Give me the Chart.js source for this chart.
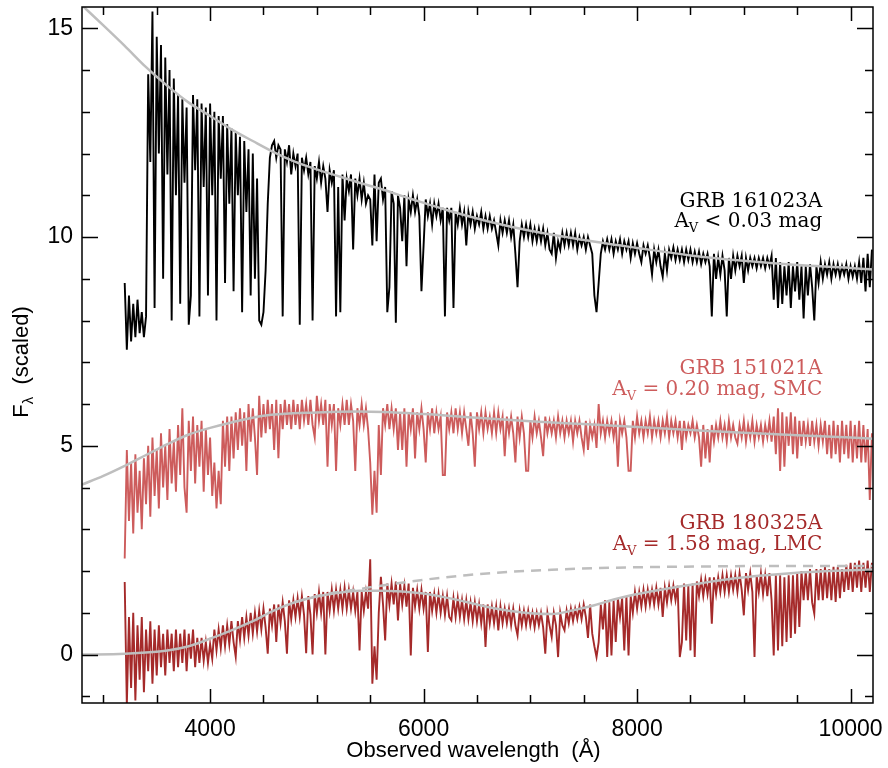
<!DOCTYPE html>
<html>
<head>
<meta charset="utf-8">
<script src="https://cdn.jsdelivr.net/npm/chart.js@4.4.0/dist/chart.umd.min.js"></script>
<style>
  html, body { margin: 0; padding: 0; background: #fff; }
</style>
</head>
<body>
<canvas id="specChart" width="888" height="768"></canvas>
<script>
// spectra are sampled on a regular wavelength grid (Angstrom)
const waveStart = 3200;
const waveStep = 20;

// GRB 161023A, Av < 0.03
const flux161023A = [
  8.9, 7.3, 8.6, 7.5, 8.4, 7.6, 8.5, 7.7, 8.2, 7.6, 8.1, 13.9, 11.8, 15.4, 8.3, 14.8, 12.0, 14.6, 9.0, 14.3, 11.5, 14.0, 8.0, 13.8, 11.0,
  13.4, 8.4, 13.3, 11.3, 13.1, 7.9, 8.6, 13.4, 11.6, 13.3, 8.1, 13.2, 11.2, 13.1, 8.6, 13.2, 11.0, 13.0, 8.0, 12.9, 11.4, 12.9, 8.9, 12.7, 10.8,
  12.6, 8.7, 12.5, 11.0, 12.4, 8.2, 12.3, 10.6, 12.1, 8.6, 12.0, 9.0, 11.4, 8.0, 7.9, 8.2, 9.2, 10.8, 11.9, 12.2, 12.3, 11.9, 12.2, 12.1, 8.1,
  12.1, 11.8, 12.2, 11.5, 12.0, 11.7, 12.0, 7.9, 11.9, 11.6, 11.9, 11.5, 11.8, 8.0, 11.7, 11.4, 11.8, 11.3, 11.7, 11.4, 10.6, 11.6, 11.3, 11.6, 8.1,
  11.2, 8.2, 11.5, 10.4, 11.4, 11.1, 11.5, 9.7, 11.4, 11.0, 11.4, 10.9, 11.3, 10.8, 11.0, 10.9, 9.8, 11.5, 9.9, 11.3, 11.4, 10.9, 11.2, 8.2, 8.8,
  11.1, 10.8, 7.95, 11.0, 10.7, 9.9, 11.0, 9.3, 10.9, 10.6, 11.0, 10.6, 10.9, 10.5, 8.7, 9.8, 10.9, 10.5, 10.8, 10.3, 10.8, 10.5, 10.8, 10.4, 10.7,
  8.1, 10.7, 10.4, 10.7, 8.3, 10.6, 10.3, 10.7, 10.3, 10.6, 9.8, 10.6, 10.3, 10.6, 10.2, 10.5, 10.3, 10.6, 10.2, 10.5, 10.2, 10.5, 10.2, 10.4, 10.1,
  9.8, 10.4, 10.1, 10.4, 10.1, 10.4, 10.0, 10.3, 9.6, 8.8, 9.9, 10.3, 10.0, 10.3, 10.0, 10.3, 9.9, 10.2, 9.9, 10.2, 9.9, 10.2, 9.8, 10.1, 9.7,
  9.6, 10.1, 9.5, 9.9, 9.7, 10.1, 9.8, 10.1, 9.8, 10.1, 9.8, 10.1, 9.7, 10.0, 9.8, 10.0, 9.7, 10.0, 9.8, 9.6, 8.6, 8.2, 8.9, 9.6, 9.9,
  9.7, 9.95, 9.7, 9.95, 9.6, 9.9, 9.7, 9.95, 9.6, 9.9, 9.7, 9.9, 9.5, 9.85, 9.6, 9.85, 9.6, 9.4, 9.8, 9.6, 9.8, 9.5, 9.1, 9.7, 9.4,
  9.7, 9.3, 9.05, 9.6, 9.2, 9.7, 9.5, 9.75, 9.45, 9.7, 9.45, 9.7, 9.4, 9.7, 9.45, 9.7, 9.4, 9.65, 9.4, 9.65, 9.35, 9.6, 9.4, 9.6, 9.3,
  8.1, 9.6, 9.0, 9.5, 9.1, 9.55, 9.2, 8.1, 9.5, 9.0, 9.55, 9.2, 9.55, 9.3, 9.55, 8.9, 9.5, 9.2, 9.5, 9.3, 9.5, 9.25, 9.5, 9.3, 9.5,
  9.25, 9.5, 9.3, 9.55, 8.5, 9.5, 8.3, 9.4, 8.4, 9.3, 8.6, 9.4, 8.3, 9.3, 8.7, 9.4, 8.5, 9.3, 8.05, 9.3, 8.6, 9.35, 8.8, 8.0, 9.3,
  8.9, 9.4, 9.0, 9.35, 9.1, 9.4, 9.0, 9.35, 9.1, 9.35, 9.05, 9.3, 9.1, 9.35, 9.0, 9.3, 9.05, 9.3, 9.0, 9.4, 8.9, 9.5, 8.7, 9.6, 8.8, 9.7
];

// GRB 151021A, Av = 0.20 (SMC)
const flux151021A = [
  2.3, 4.9, 3.2, 4.6, 2.9, 4.8, 3.4, 4.4, 3.0, 4.7, 3.6, 5.0, 3.3, 5.2, 3.8, 4.9, 3.5, 5.3, 4.0, 5.0, 3.7, 5.4, 4.1, 5.1, 3.9,
  5.5, 4.3, 5.9, 4.0, 3.4, 5.6, 4.4, 5.7, 4.1, 5.5, 4.5, 5.6, 3.9, 5.4, 4.3, 5.2, 3.8, 4.6, 3.5, 4.4, 3.6, 5.6, 4.5, 5.7, 4.4,
  5.7, 4.7, 5.8, 4.9, 5.9, 5.0, 5.8, 4.4, 6.0, 5.1, 5.9, 5.2, 4.3, 6.2, 5.2, 6.0, 5.3, 6.1, 5.4, 6.0, 4.9, 6.1, 4.7, 6.0, 5.4,
  6.1, 5.5, 6.0, 5.4, 6.1, 5.5, 6.0, 5.4, 6.1, 5.6, 6.0, 5.5, 6.1, 5.5, 5.2, 6.2, 5.6, 6.0, 5.5, 6.1, 4.5, 6.0, 5.5, 6.0, 4.4,
  5.9, 5.5, 6.0, 5.5, 6.1, 5.5, 6.0, 5.6, 4.4, 5.9, 5.5, 6.0, 5.5, 5.9, 5.4, 4.6, 3.35, 4.4, 3.4, 5.5, 4.3, 5.9, 5.5, 6.0, 5.4,
  5.9, 5.4, 5.9, 4.9, 5.8, 4.9, 5.9, 4.5, 5.8, 5.4, 5.9, 4.7, 5.8, 5.4, 5.9, 5.4, 4.6, 5.8, 5.4, 5.9, 5.3, 5.8, 5.4, 5.7, 4.3,
  4.3, 5.8, 5.4, 5.8, 5.3, 5.9, 5.4, 5.8, 5.3, 5.8, 5.4, 5.0, 5.8, 5.3, 4.5, 5.8, 5.4, 5.8, 5.3, 5.8, 5.4, 5.7, 5.3, 5.8, 5.3,
  5.8, 5.4, 5.7, 4.75, 5.7, 5.3, 5.7, 5.3, 4.6, 5.7, 5.2, 5.7, 5.3, 4.4, 4.4, 5.6, 5.2, 5.7, 5.3, 5.6, 5.2, 4.75, 5.7, 5.3, 5.6,
  5.3, 5.6, 5.2, 5.7, 5.3, 5.6, 5.2, 5.6, 5.3, 5.6, 5.1, 5.6, 5.3, 5.6, 5.2, 4.9, 5.6, 4.9, 5.5, 5.2, 5.5, 4.95, 6.0, 5.3, 5.6,
  5.2, 5.6, 5.3, 5.6, 5.2, 5.6, 4.5, 5.6, 5.3, 5.6, 5.2, 4.4, 4.4, 5.6, 5.2, 5.7, 5.3, 5.6, 5.2, 5.6, 5.3, 5.7, 5.2, 5.6, 5.3,
  5.6, 5.2, 5.6, 5.3, 5.7, 5.2, 5.6, 5.3, 5.6, 5.2, 5.6, 4.9, 5.6, 5.2, 5.5, 5.3, 5.6, 5.2, 5.5, 5.2, 4.5, 5.5, 4.7, 5.4, 4.6,
  5.5, 5.1, 5.5, 5.2, 5.6, 5.2, 5.5, 5.1, 5.6, 5.2, 5.5, 5.2, 5.05, 5.5, 5.2, 5.6, 5.1, 5.5, 5.2, 5.6, 5.1, 5.5, 5.2, 5.5, 5.1,
  5.5, 5.2, 5.6, 5.1, 5.7, 4.8, 5.9, 4.4, 5.8, 4.5, 5.7, 5.0, 5.8, 4.8, 5.7, 4.7, 5.6, 5.0, 5.6, 5.1, 5.5, 5.0, 5.6, 5.1, 5.5,
  5.0, 5.5, 5.1, 5.6, 4.8, 5.5, 4.7, 5.6, 4.8, 5.5, 4.6, 5.6, 4.8, 5.5, 4.7, 5.6, 4.6, 5.5, 4.7, 5.6, 4.6, 5.5, 4.6, 5.4, 3.7, 5.3
];

// GRB 180325A, Av = 1.58 (LMC)
const flux180325A = [
  1.74, -1.2, 0.9, -0.8, 1.0, -1.1, 0.7, -0.6, 0.9, -0.9, 0.6, -0.4, 0.8, -0.7, 0.6, -0.5, 0.7, -0.3, 0.5, -0.5, 0.6, -0.2, 0.5, -0.4, 0.6,
  -0.3, 0.5, -0.2, 0.6, -0.4, 0.5, -0.1, 0.6, -0.3, 0.4, -0.2, 0.4, -0.15, 0.3, -0.2, 0.25, -0.1, 0.6, 0.1, 0.6, 0.15, 0.7, 0.2, 0.7, 0.25,
  0.8, 0.3, -0.05, 0.8, 0.35, 0.9, 0.4, 0.9, 0.45, 1.0, 0.5, 1.0, 0.55, 1.05, 0.6, 1.1, 0.65, 0.02, 1.1, 0.7, 1.2, 0.3, 1.2, 0.75, 1.25,
  0.8, 0.02, 1.3, 0.85, 1.3, 0.9, 1.35, 0.9, 1.4, 0.95, 0.03, 1.4, 0.95, 0.0, 1.45, 1.0, 1.5, 1.0, 1.5, 0.0, 1.5, 1.05, 1.55, 1.05, 1.55,
  1.1, 1.55, 1.1, 1.6, 1.1, 1.55, 1.1, 1.5, 1.05, 1.5, 0.1, 1.5, 1.05, 1.5, 1.1, 2.28, -0.7, 0.2, -0.6, 1.0, 1.86, 1.2, 0.34, 1.7, 1.2,
  1.7, 1.2, 1.75, 0.82, 1.7, 1.2, 1.65, 1.15, 1.7, -0.02, 1.6, 1.15, 1.55, 1.1, 1.55, 1.1, 1.5, 0.06, 1.5, 1.05, 1.45, 1.0, 1.45, 1.0, 1.4,
  0.95, 1.4, 0.9, 0.82, 1.35, 0.9, 1.35, 0.9, 1.3, 0.85, 1.3, 0.85, 1.25, 0.8, 1.25, 0.8, 1.2, 0.75, 1.2, 0.18, 1.2, 0.75, 1.15, 0.75, 1.15,
  0.58, 1.15, 0.75, 1.1, 0.75, 1.1, 0.7, 1.1, 0.7, 0.46, 1.05, 0.7, 1.05, 0.7, 1.05, 0.7, 1.0, 0.65, 1.0, 0.7, 1.0, 0.65, 0.02, 1.0, 0.7,
  0.42, 1.0, 0.7, -0.06, 1.0, 0.7, 0.58, 1.05, 0.75, 1.1, 0.8, 1.1, 0.85, 1.15, 0.85, 1.2, 0.9, 0.4, 1.2, 0.5, 0.2, -0.06, 0.3, 1.2, 0.6,
  1.3, -0.06, 1.25, -0.02, 1.3, 0.3, 1.35, 0.9, 1.35, 0.1, 1.4, -0.02, 1.4, 1.0, 1.5, 1.1, 1.5, 1.15, 1.55, 1.15, 1.55, 1.2, 1.55, 1.2, 1.6,
  1.2, 1.6, 0.9, 1.6, 1.25, 1.65, 1.3, 1.65, 1.3, 1.65, -0.06, 0.3, 1.7, 0.34, 1.65, 0.1, 1.7, -0.06, 1.75, 1.4, 1.8, 1.4, 1.8, 1.45, 1.85,
  0.74, 1.85, 1.45, 1.85, 1.5, 1.9, 1.5, 1.9, 1.5, 1.9, 1.55, 1.9, 1.5, 1.95, 1.55, 0.94, 1.95, 1.55, 1.95, 1.5, -0.06, 1.9, 1.5, 1.95, 1.45,
  1.9, 1.4, 1.95, 1.3, -0.02, 1.9, 0.1, 1.9, 0.2, 1.85, 0.3, 1.9, 0.4, 1.9, 0.5, 1.95, 0.66, 2.0, 1.3, 2.0, 1.3, 2.05, 1.25, 0.98, 2.05,
  1.3, 2.05, 1.3, 2.1, 1.35, 2.05, 1.3, 2.1, 1.26, 2.1, 1.35, 2.05, 1.5, 2.15, 1.55, 2.2, 1.5, 2.2, 1.6, 2.25, 1.5, 2.2, 1.6, 2.25, 1.5, 2.2
];

// smooth model continua
const model161023A_x = [2800, 3000, 3200, 3400, 3600, 3800, 4000, 4200, 4400, 4600, 4800, 5000, 5300, 5600, 5900, 6200, 6600, 7000, 7500, 8000, 8500, 9000, 9500, 10000, 10210];
const model161023A_y = [15.55, 15.07, 14.58, 14.07, 13.62, 13.22, 12.9, 12.58, 12.3, 12.03, 11.8, 11.62, 11.38, 11.15, 10.9, 10.66, 10.38, 10.15, 9.93, 9.74, 9.56, 9.43, 9.33, 9.26, 9.22];

const model151021A_x = [2800, 3000, 3200, 3400, 3600, 3800, 4000, 4200, 4500, 5000, 5400, 6000, 6500, 7000, 7500, 8000, 8500, 9000, 9500, 10000, 10210];
const model151021A_y = [4.07, 4.28, 4.52, 4.78, 5.04, 5.27, 5.43, 5.56, 5.72, 5.8, 5.82, 5.76, 5.67, 5.59, 5.52, 5.45, 5.38, 5.31, 5.25, 5.2, 5.17];

const model180325A_x = [2800, 3200, 3600, 3800, 4000, 4200, 4400, 4600, 4800, 5000, 5200, 5400, 5600, 5800, 6000, 6200, 6400, 6600, 6800, 7000, 7200, 7400, 7600, 7800, 8000, 8300, 8600, 8900, 9200, 9500, 9800, 10210];
const model180325A_y = [0.0, 0.02, 0.1, 0.2, 0.38, 0.58, 0.8, 1.06, 1.26, 1.39, 1.48, 1.53, 1.53, 1.51, 1.46, 1.37, 1.26, 1.14, 1.05, 0.99, 0.97, 1.06, 1.18, 1.33, 1.45, 1.59, 1.71, 1.82, 1.9, 1.96, 2.0, 2.04];

// same model without the 2175 A bump (dashed)
const noBump180325A_x = [4800, 5000, 5200, 5400, 5600, 6000, 6400, 6800, 7200, 7600, 8000, 8600, 9200, 10210];
const noBump180325A_y = [1.26, 1.4, 1.5, 1.57, 1.65, 1.79, 1.9, 1.98, 2.03, 2.07, 2.09, 2.11, 2.12, 2.12];

const xTicks = [4000, 6000, 8000, 10000];
const yTicks = [0, 5, 10, 15];

const labels = [
  { name: 'GRB 161023A', av: ' < 0.03 mag', color: '#000000', y1: 10.73, y2: 10.24 },
  { name: 'GRB 151021A', av: ' = 0.20 mag, SMC', color: '#cd5c5c', y1: 6.72, y2: 6.22 },
  { name: 'GRB 180325A', av: ' = 1.58 mag, LMC', color: '#a52a2a', y1: 3.0, y2: 2.5 }
];

function spectrum(flux) {
  return flux.map((f, i) => ({ x: waveStart + i * waveStep, y: f }));
}
function curve(xs, ys) {
  return xs.map((v, i) => ({ x: v, y: ys[i] }));
}

const GRAY = '#bebebe';
const SANS = '"Liberation Sans", Arial, sans-serif';
const SERIF = '"DejaVu Serif", serif';

const framePlugin = {
  id: 'framePlugin',
  afterDraw(chart) {
    const { ctx, chartArea: a, scales: { x, y } } = chart;
    ctx.save();
    ctx.strokeStyle = '#000';
    ctx.lineWidth = 1.5;
    ctx.strokeRect(a.left, a.top, a.right - a.left, a.bottom - a.top);

    // inward ticks on all four sides
    ctx.beginPath();
    for (let v = 3000; v <= 10000; v += 500) {
      const px = Math.round(x.getPixelForValue(v)) + 0.5;
      const len = v % 2000 === 0 ? 14 : 8;
      ctx.moveTo(px, a.bottom); ctx.lineTo(px, a.bottom - len);
      ctx.moveTo(px, a.top); ctx.lineTo(px, a.top + len);
    }
    for (let v = -1; v <= 15; v++) {
      const py = Math.round(y.getPixelForValue(v)) + 0.5;
      const len = v % 5 === 0 ? 16 : 8;
      ctx.moveTo(a.left, py); ctx.lineTo(a.left + len, py);
      ctx.moveTo(a.right, py); ctx.lineTo(a.right - len, py);
    }
    ctx.stroke();

    // axis titles
    ctx.fillStyle = '#000';
    ctx.font = '22px ' + SANS;
    ctx.textAlign = 'center';
    ctx.textBaseline = 'alphabetic';
    ctx.fillText('Observed wavelength  (\u00c5)', (a.left + a.right) / 2 - 4, 757);

    ctx.save();
    ctx.translate(28, 362);
    ctx.rotate(-Math.PI / 2);
    ctx.textAlign = 'left';
    const wF = ctx.measureText('F').width;
    ctx.font = '15px ' + SANS;
    const wL = ctx.measureText('\u03bb').width;
    ctx.font = '22px ' + SANS;
    const wS = ctx.measureText('  (scaled)').width;
    let sx = -(wF + wL + wS) / 2;
    ctx.fillText('F', sx, 0);
    sx += wF;
    ctx.font = '15px ' + SANS;
    ctx.fillText('\u03bb', sx, 5);
    sx += wL;
    ctx.font = '22px ' + SANS;
    ctx.fillText('  (scaled)', sx, 0);
    ctx.restore();

    // labels of the three spectra, right aligned
    const xr = x.getPixelForValue(9735);
    labels.forEach(l => {
      ctx.fillStyle = l.color;
      ctx.font = '20px ' + SERIF;
      ctx.textAlign = 'right';
      ctx.fillText(l.name, xr, y.getPixelForValue(l.y1));
      const wA = ctx.measureText('A').width;
      const wRest = ctx.measureText(l.av).width;
      ctx.font = '13px ' + SERIF;
      const wV = ctx.measureText('V').width;
      const base = y.getPixelForValue(l.y2);
      ctx.textAlign = 'left';
      let px = xr - wA - wV - wRest;
      ctx.font = '20px ' + SERIF;
      ctx.fillText('A', px, base);
      px += wA;
      ctx.font = '13px ' + SERIF;
      ctx.fillText('V', px, base + 5);
      px += wV;
      ctx.font = '20px ' + SERIF;
      ctx.fillText(l.av, px, base);
    });
    ctx.restore();
  }
};

const specLine = (data, color) => ({
  data: data,
  borderColor: color,
  borderWidth: 1.9,
  pointRadius: 0,
  tension: 0,
  order: 2
});
const modelLine = (data, dash) => ({
  data: data,
  borderColor: GRAY,
  borderWidth: 2.5,
  borderDash: dash || [],
  pointRadius: 0,
  cubicInterpolationMode: 'monotone',
  order: 1
});

const chart = new Chart(document.getElementById('specChart'), {
  type: 'line',
  data: {
    datasets: [
      specLine(spectrum(flux161023A), '#000000'),
      specLine(spectrum(flux151021A), '#cd5c5c'),
      specLine(spectrum(flux180325A), '#a52a2a'),
      modelLine(curve(model161023A_x, model161023A_y)),
      modelLine(curve(model151021A_x, model151021A_y)),
      modelLine(curve(noBump180325A_x, noBump180325A_y), [10, 7]),
      modelLine(curve(model180325A_x, model180325A_y))
    ]
  },
  options: {
    responsive: false,
    animation: false,
    layout: { padding: { top: 7, right: 15, left: 0, bottom: 0 } },
    plugins: { legend: { display: false }, tooltip: { enabled: false } },
    scales: {
      x: {
        type: 'linear',
        min: 2800,
        max: 10210,
        grid: { display: false, drawTicks: false },
        border: { display: false },
        afterFit: s => { s.height = 65; s.paddingLeft = 0; s.paddingRight = 0; },
        afterBuildTicks: s => { s.ticks = xTicks.map(v => ({ value: v })); },
        ticks: {
          padding: 13,
          maxRotation: 0,
          color: '#000',
          font: { family: SANS, size: 23 },
          callback: v => String(v)
        }
      },
      y: {
        min: -1.16,
        max: 15.51,
        grid: { display: false, drawTicks: false },
        border: { display: false },
        afterFit: s => { s.width = 82; s.paddingTop = 0; s.paddingBottom = 0; },
        afterBuildTicks: s => { s.ticks = yTicks.map(v => ({ value: v })); },
        ticks: {
          padding: 9,
          color: '#000',
          font: { family: SANS, size: 23 },
          callback: v => String(v)
        }
      }
    }
  },
  plugins: [framePlugin]
});
</script>
</body>
</html>
